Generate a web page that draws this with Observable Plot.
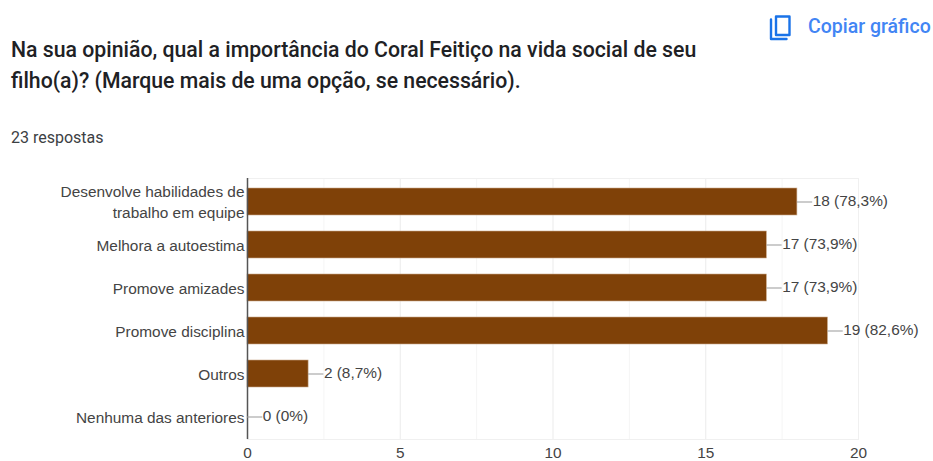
<!DOCTYPE html>
<html><head><meta charset="utf-8">
<script src="https://cdn.jsdelivr.net/npm/d3@7"></script>
<script src="https://cdn.jsdelivr.net/npm/@observablehq/plot@0.6"></script>
<style>
html,body{margin:0;padding:0;background:#fff;overflow:hidden}
#wrap{position:relative;width:933px;height:461px;font-family:Roboto,sans-serif;overflow:hidden}
#chart svg{position:absolute;left:0;top:0}
.t{position:absolute;white-space:nowrap}
#title{left:11px;top:34px;font-size:21.25px;font-weight:500;line-height:31px;color:#202124}
#resp{left:11px;top:128px;font-size:16px;color:#3c4043}
#copy{left:808px;top:15px;font-size:19.5px;font-weight:500;color:#4285f4}
#icon{position:absolute;left:766px;top:12px}
</style></head><body>
<div id="wrap">
<div id="chart"></div>
<div class="t" id="title">Na sua opinião, qual a importância do Coral Feitiço na vida social de seu<br>filho(a)? (Marque mais de uma opção, se necessário).</div>
<div class="t" id="resp">23 respostas</div>
<svg id="icon" width="30" height="30" viewBox="0 0 30 30"><path d="M5 7.5V27h15.5M10 4.5h13.5v18.5H10z" fill="none" stroke="#1a73e8" stroke-width="2.4" stroke-linejoin="round" stroke-linecap="round"/></svg>
<div class="t" id="copy">Copiar gráfico</div>
</div>
<script>
const categories = ["Desenvolve habilidades de\ntrabalho em equipe","Melhora a autoestima","Promove amizades","Promove disciplina","Outros","Nenhuma das anteriores"];
const counts = [18,17,17,19,2,0];
const percents = ["78,3%","73,9%","73,9%","82,6%","8,7%","0%"];
const majorTicks = [0,5,10,15,20];
const minorTicks = [2.5,7.5,12.5,17.5];
const rows = categories.map((c,i)=>({c,v:counts[i],p:percents[i]}));
const leader = 0.5;
const fs = 15.4;
const plot = Plot.plot({
  width:933,height:461,marginLeft:247,marginRight:75,marginTop:178,marginBottom:22,
  style:{fontFamily:"Liberation Sans, Arial, sans-serif",fontSize:fs+"px",background:"transparent",overflow:"visible"},
  x:{domain:[0,20],ticks:majorTicks,label:null},
  y:{domain:categories,label:null,paddingInner:0.38,paddingOuter:0.19,align:0.5},
  marks:[
    Plot.ruleX(minorTicks,{stroke:"#f5f5f5",strokeWidth:1}),
    Plot.ruleX(majorTicks.slice(1),{stroke:"#ebebeb",strokeWidth:1}),
    Plot.frame({stroke:"#f0f0f0",strokeWidth:1}),
    Plot.barX(rows,{y:"c",x:"v",fill:"#7f4108",stroke:"#c9a98a",strokeWidth:0.6}),
    Plot.ruleX([0],{stroke:"#555",strokeWidth:1.5}),
    Plot.ruleY(rows,{y:"c",x1:"v",x2:d=>d.v+leader,stroke:"#999",strokeWidth:1}),
    Plot.text(rows,{y:"c",x:d=>d.v+leader,text:d=>`${d.v} (${d.p})`,textAnchor:"start",dx:0,dy:-1,fill:"#444",fontSize:fs}),
    Plot.axisY({tickSize:0,tickPadding:3,dy:-1,marginLeft:247,lineHeight:1.38,fill:"#444",fontSize:fs,label:null}),
    Plot.axisX({tickSize:0,tickPadding:8,marginBottom:22,fill:"#444",fontSize:fs,label:null,ticks:majorTicks})
  ]
});
document.getElementById("chart").append(plot);
</script></body></html>
